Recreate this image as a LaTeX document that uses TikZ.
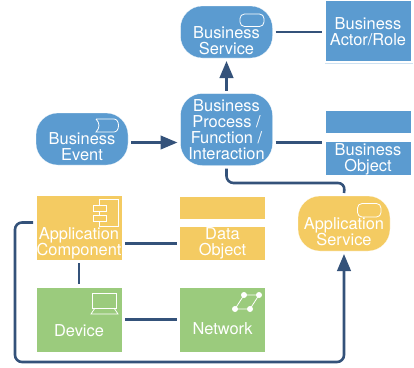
\documentclass[tikz,border=0pt]{standalone}
\usepackage{fontspec}
\setmainfont{TeX Gyre Heros}
\usepackage{tikz}
\usetikzlibrary{arrows.meta}
\definecolor{bizblue}{HTML}{5B9BD0}
\definecolor{appyellow}{HTML}{F4CB62}
\definecolor{techgreen}{HTML}{9BCB7D}
\definecolor{linkblue}{HTML}{34527A}
\begin{document}
\begin{tikzpicture}[x=1pt, y=-1pt]
\tikzstyle{box}=[rectangle, draw=white, very thin, inner sep=0pt, outer sep=3pt];
\tikzstyle{roundbox}=[box, rounded corners=22pt, minimum width=92pt];
\tikzstyle{la}=[text=white, align=center, inner sep=0pt, font=\fontsize{16.4}{16}\selectfont];
\tikzstyle{link}=[draw=linkblue, line width=2.6pt];
\tikzstyle{flow}=[link, -{Triangle[length=17pt, width=13.5pt]}];
\tikzstyle{turn}=[rounded corners=7pt];
\tikzstyle{icon}=[draw=white, line width=0.8pt];
\useasboundingbox (0,0) rectangle (414,367);
% business layer
\node[roundbox, fill=bizblue, minimum height=52pt] (service) at (226.5,32) {};
\node[box, fill=bizblue, minimum width=86pt, minimum height=61pt] (actor) at (368,30.5) {};
\node[roundbox, fill=bizblue, minimum height=72pt] (process) at (226.5,129.5) {};
\node[roundbox, fill=bizblue, minimum height=52pt] (event) at (82,139) {};
\node[box, fill=bizblue, minimum width=86pt, minimum height=23pt] (objbar) at (368,122) {};
\node[box, fill=bizblue, minimum width=86pt, minimum height=34pt] (object) at (368,158) {};
% application layer
\node[box, fill=appyellow, minimum width=86pt, minimum height=65pt] (component) at (79,227.5) {};
\node[box, fill=appyellow, minimum width=86pt, minimum height=23pt] (databar) at (222.5,208) {};
\node[box, fill=appyellow, minimum width=86pt, minimum height=34pt] (data) at (222.5,243.5) {};
\node[roundbox, fill=appyellow, minimum height=55pt] (appservice) at (344,223.5) {};
% technology layer
\node[box, fill=techgreen, minimum width=86pt, minimum height=65pt] (device) at (79,319.5) {};
\node[box, fill=techgreen, minimum width=86pt, minimum height=65pt] (network) at (222.5,319.5) {};
\node[la] (servicela) at (226.5,41) {Business\\Service};
\node[la] (actorla) at (368,32) {Business\\Actor/Role};
\node[la] (processla) at (226.5,130) {Business\\Process /\\Function /\\Interaction};
\node[la] (eventla) at (82,147) {Business\\Event};
\node[la] (objectla) at (368,159) {Business\\Object};
\node[la] (componentla) at (79,243) {Application\\Component};
\node[la] (datala) at (222.5,243) {Data\\Object};
\node[la] (appservicela) at (344,231.5) {Application\\Service};
\node[la] (devicela) at (79,331) {Device};
\node[la] (networkla) at (222.5,329) {Network};
% icons
\draw[icon, rounded corners=4.5pt] (240,14) rectangle (264,26.5);
\draw[icon, rounded corners=4.5pt] (357.5,203.5) rectangle (381,217);
\draw[icon] (96,119) -- (114,119) .. controls (120,119) and (120,132) .. (114,132) -- (96,132) .. controls (100,128) and (100,123) .. (96,119);
\draw[icon] (99,199) rectangle (118.5,226);
\draw[icon, fill=appyellow] (93.5,205) rectangle (106,211);
\draw[icon, fill=appyellow] (93.5,215) rectangle (106,221);
\draw[icon] (92.5,293) rectangle (116.5,308);
\draw[icon] (95,308) -- (91,314) -- (118,314) -- (114,308);
\draw[icon] (244,295) -- (259,295) -- (250,309) -- (235,309) -- cycle;
\foreach \x/\y in {244/295, 259/295, 250/309, 235/309}
{\fill[white] (\x,\y) circle (3);}
% connectors
\coordinate (midlink) at (226.5,142.5);
\coordinate (upbend) at (345,183);
\coordinate (leftbend) at (15,222.5);
\coordinate (lowbend) at (15,362);
\draw[link] (service.east) -- (service.east -| actor.west);
\draw[flow] (process) -- (service);
\draw[flow] (event.east |- midlink) -- (process.west |- midlink);
\draw[link] (process.east |- midlink) -- (object.west |- midlink);
\draw[link] (component.east |- data) -- (data);
\draw[link] (component) -- (device);
\draw[link] (device.east) -- (device.east -| network.west);
\draw[link, turn] (process.south) |- (upbend) -- (appservice.north);
\draw[flow, turn] (component.west |- leftbend) -- (leftbend) -- (lowbend) -| (appservice.south);
\draw[white!70!bizblue, thin] (325,63) -- (413,63);
\end{tikzpicture}
\end{document}
